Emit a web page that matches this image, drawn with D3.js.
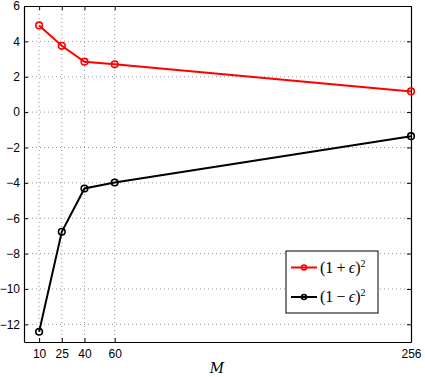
<!DOCTYPE html>
<html>
<head>
<meta charset="utf-8">
<script src="https://cdn.jsdelivr.net/npm/d3@7"></script>
<style>
  body { margin: 0; background: #fff; }
  .axis text { font-family: "Liberation Sans", Arial, sans-serif; font-size: 12px; fill: #000; }
  .grid line { stroke: #999; stroke-dasharray: 1,3; }
</style>
</head>
<body>
<script>
// data
var M = [10, 25, 40, 60, 256];
var plusEps = [4.9, 3.75, 2.85, 2.7, 1.17];
var minusEps = [-12.42, -6.77, -4.32, -3.98, -1.36];
var xTicks = [10, 25, 40, 60, 256];
var yTicks = [-12, -10, -8, -6, -4, -2, 0, 2, 4, 6];

var width = 425, height = 377;
var margin = {top: 6, right: 14, bottom: 35, left: 24};
var w = width - margin.left - margin.right,
    h = height - margin.top - margin.bottom;

var svg = d3.select("body").append("svg")
    .attr("width", width).attr("height", height);
var g = svg.append("g")
    .attr("transform", "translate(" + margin.left + "," + margin.top + ")");

var x = d3.scaleLinear().domain([0, 256]).range([0, w]);
var y = d3.scaleLinear().domain([-13, 6]).range([h, 0]);

// grid
g.append("g").attr("class", "grid")
  .selectAll("line.v").data(xTicks.filter(function(d) { return d < 256; })).enter()
  .append("line")
    .attr("x1", function(d) { return x(d); }).attr("x2", function(d) { return x(d); })
    .attr("y1", 0).attr("y2", h);
g.select("g.grid")
  .selectAll("line.h").data(yTicks.filter(function(d) { return d < 6; })).enter()
  .append("line")
    .attr("x1", 0).attr("x2", w)
    .attr("y1", function(d) { return y(d); }).attr("y2", function(d) { return y(d); });

// axes, ticks inside like matlab
g.append("g").attr("class", "axis")
  .attr("transform", "translate(0," + h + ")")
  .call(d3.axisBottom(x).tickValues(xTicks).tickSizeInner(-4).tickSizeOuter(0).tickPadding(7));
g.append("g").attr("class", "axis")
  .call(d3.axisLeft(y).tickValues(yTicks).tickSizeInner(-4).tickSizeOuter(0).tickPadding(4)
    .tickFormat(function(d) { return d < 0 ? "\u2212" + (-d) : d; }));
g.append("g").attr("class", "axis")
  .call(d3.axisTop(x).tickValues(xTicks).tickSizeInner(-4).tickSizeOuter(0).tickFormat(""));
g.append("g").attr("class", "axis")
  .attr("transform", "translate(" + w + ",0)")
  .call(d3.axisRight(y).tickValues(yTicks).tickSizeInner(-4).tickSizeOuter(0).tickFormat(""));
g.selectAll(".axis path, .axis line").attr("stroke", "#000");
g.selectAll(".axis path").attr("stroke-width", 1.2);

var line = d3.line()
  .x(function(d, i) { return x(M[i]); })
  .y(function(d) { return y(d); });

var series = [
  {values: plusEps, color: "#ff0000", sign: "+"},
  {values: minusEps, color: "#000000", sign: "\u2212"}
];

series.forEach(function(s) {
  g.append("path")
    .datum(s.values)
    .attr("d", line)
    .attr("fill", "none")
    .attr("stroke", s.color)
    .attr("stroke-width", 2);
  g.selectAll(null).data(s.values).enter()
    .append("circle")
      .attr("cx", function(d, i) { return x(M[i]); })
      .attr("cy", function(d) { return y(d); })
      .attr("r", 3.3)
      .attr("fill", "none")
      .attr("stroke", s.color)
      .attr("stroke-width", 1.6);
});

// x label
svg.append("text")
  .attr("x", 217).attr("y", 373)
  .attr("text-anchor", "middle")
  .style("font-family", "'DejaVu Serif', 'Liberation Serif', serif")
  .style("font-style", "italic")
  .style("font-size", "14px")
  .text("M");

// legend
var lg = svg.append("g").attr("transform", "translate(286,251)");
lg.append("rect")
  .attr("width", 92).attr("height", 62)
  .attr("fill", "#fff").attr("stroke", "#000").attr("stroke-width", 1);
series.forEach(function(s, i) {
  var yy = 16.5 + i * 29.5;
  lg.append("line")
    .attr("x1", 5).attr("x2", 31).attr("y1", yy).attr("y2", yy)
    .attr("stroke", s.color).attr("stroke-width", 2);
  lg.append("circle")
    .attr("cx", 18).attr("cy", yy).attr("r", 2.5)
    .attr("fill", "none").attr("stroke", s.color).attr("stroke-width", 1.5);
  var t = lg.append("text")
    .attr("x", 34).attr("y", yy + 5)
    .style("font-family", "'Liberation Serif', 'DejaVu Serif', serif")
    .style("font-size", "16px");
  t.append("tspan").text("(1\u2009" + s.sign + "\u2009");
  t.append("tspan").style("font-style", "italic").text("\u03f5");
  t.append("tspan").text(")");
  t.append("tspan").attr("dy", -6).style("font-size", "10px").text("2");
});
</script>
</body>
</html>
